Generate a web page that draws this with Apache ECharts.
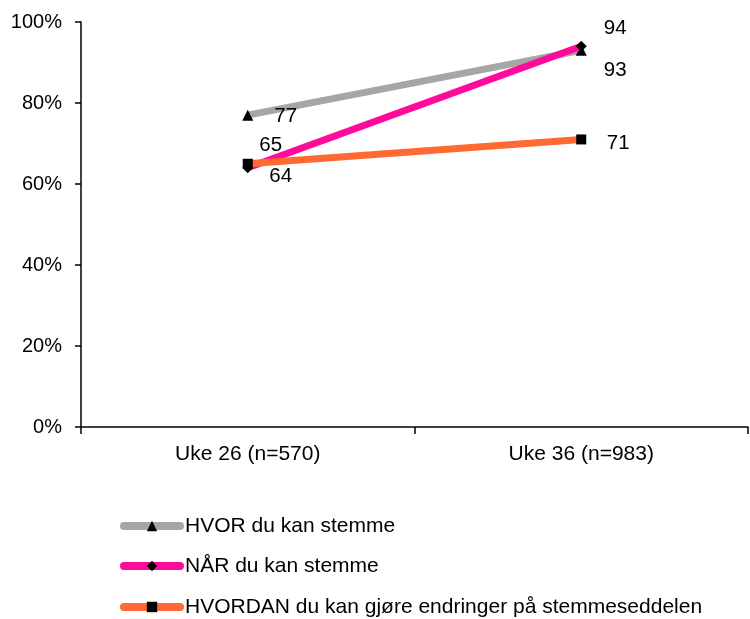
<!DOCTYPE html>
<html><head><meta charset="utf-8">
<script src="https://cdn.jsdelivr.net/npm/echarts@6/dist/echarts.min.js"></script>
<style>html,body{margin:0;padding:0;background:#fff}#c{width:750px;height:619px}</style>
</head><body><div id="c"></div>
<script>
const categories = ['Uke 26 (n=570)', 'Uke 36 (n=983)'];
const seriesNames = ['HVOR du kan stemme', 'NÅR du kan stemme', 'HVORDAN du kan gjøre endringer på stemmeseddelen'];
const hvor = [77, 93];
const naar = [64, 94];
const hvordan = [65, 71];
const yTicks = [0, 20, 40, 60, 80, 100];

const colors = ['#A6A6A6', '#FF0A9B', '#FF6A33'];
const symbols = ['triangle', 'diamond', 'rect'];
const labelOffsets = [
  [[38, 1], [34, 20]],
  [[33, 9], [34, -18]],
  [[23, -18], [37, 4]]
];
const legendTops = [515, 555, 596];
const font = 'Liberation Sans, Arial, sans-serif';
const allData = [hvor, naar, hvordan];

const chart = echarts.init(document.getElementById('c'), null, {renderer: 'canvas'});
chart.setOption({
  animation: false,
  grid: {left: 81, right: 2, top: 22, bottom: 192, containLabel: false},
  xAxis: {
    type: 'category', data: categories, boundaryGap: true,
    axisLine: {lineStyle: {color: '#000', width: 1.5}},
    axisTick: {show: true, length: 7, lineStyle: {color: '#000', width: 1.5}},
    axisLabel: {color: '#000', fontSize: 21, fontFamily: font, margin: 17}
  },
  yAxis: {
    type: 'value', min: yTicks[0], max: yTicks[yTicks.length - 1], interval: 20,
    axisLine: {show: true, lineStyle: {color: '#000', width: 1.5}},
    axisTick: {show: true, length: 6, lineStyle: {color: '#000', width: 1.5}},
    splitLine: {show: false},
    axisLabel: {color: '#000', fontSize: 20, fontFamily: font, margin: 19, formatter: v => v + '%'}
  },
  legend: seriesNames.map((n, i) => ({
    orient: 'vertical', left: 120, top: legendTops[i],
    itemWidth: 56, itemHeight: 13, padding: 0,
    lineStyle: {width: 8, cap: 'round'},
    textStyle: {color: '#000', fontSize: 21, fontFamily: font, lineHeight: 22},
    data: [n]
  })),
  series: allData.map((d, i) => ({
    name: seriesNames[i], type: 'line',
    data: d.map((v, j) => ({
      value: v,
      label: {offset: labelOffsets[i][j]}
    })),
    symbol: symbols[i], symbolSize: i === 2 ? 10 : 11,
    showSymbol: true,
    lineStyle: {color: colors[i], width: 7},
    itemStyle: {color: '#000', borderWidth: 0},
    label: {show: true, position: 'inside', color: '#000', fontSize: 20.5, fontFamily: font},
    z: 2 + i
  }))
});
</script></body></html>
